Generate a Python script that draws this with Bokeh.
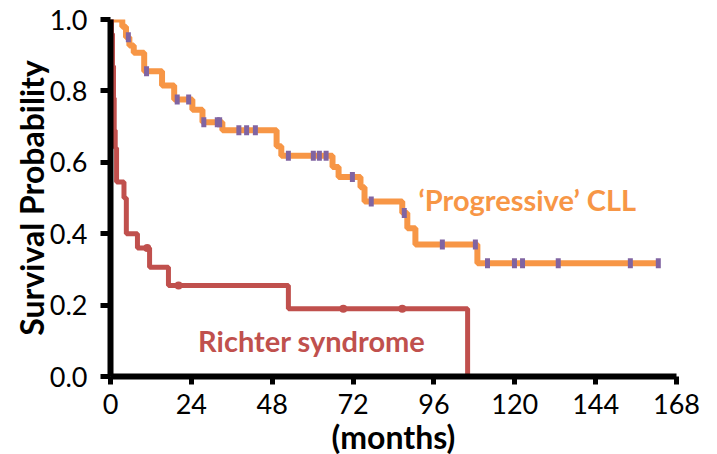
from bokeh.plotting import figure
from bokeh.models import Label, FixedTicker, Range1d, PrintfTickFormatter
from bokeh.embed import file_html
from bokeh.resources import INLINE

# ---- data ----
x_ticks = [0, 24, 48, 72, 96, 120, 144, 168]
y_ticks = [0.0, 0.2, 0.4, 0.6, 0.8, 1.0]

cll_t = [0, 3.5, 4.6, 5.6, 6.9, 10.0, 15.3, 18.9, 24.3, 27.3, 33.2, 49.3, 50.7,
         65.9, 67.7, 74.2, 75.4, 86.6, 88.1, 90.5, 108.9, 162.6]
cll_s = [1.0, 0.98, 0.95, 0.927, 0.907, 0.855, 0.815, 0.776, 0.747, 0.712, 0.69,
         0.645, 0.618, 0.587, 0.559, 0.53, 0.49, 0.458, 0.415, 0.37, 0.317, 0.317]
cll_cens_t = [5.3, 10.7, 19.8, 23.2, 27.7, 31.7, 32.4, 38.1, 40.4, 43.0, 52.8, 60.2,
              62.0, 64.0, 71.8, 77.4, 87.2, 98.5, 108.3, 111.9, 119.9, 122.3, 132.9,
              154.3, 162.6]
cll_cens_s = [0.95, 0.855, 0.776, 0.776, 0.712, 0.712, 0.712, 0.69, 0.69, 0.69, 0.618,
              0.618, 0.618, 0.618, 0.559, 0.49, 0.458, 0.37, 0.37, 0.317, 0.317, 0.317,
              0.317, 0.317, 0.317]

rs_t = [0, 0.3, 0.6, 0.9, 1.1, 1.4, 1.8, 4.0, 4.7, 8.0, 11.6, 17.2, 52.8, 106.0]
rs_s = [1.0, 0.96, 0.87, 0.78, 0.69, 0.64, 0.545, 0.50, 0.40, 0.36, 0.306, 0.255, 0.19, 0.0]
rs_cens_t = [10.9, 20.2, 69.1, 86.6]
rs_cens_s = [0.36, 0.255, 0.19, 0.19]

ORANGE = "#F79646"
RED = "#C0504D"
PURPLE = "#8064A2"
FONT = "Lato"

p = figure(frame_width=566, frame_height=357,
           x_range=Range1d(0, 168), y_range=Range1d(0, 1),
           output_backend="svg", toolbar_location=None,
           min_border_left=110, min_border_right=41,
           min_border_top=19, min_border_bottom=78)
p.outline_line_color = None
p.grid.visible = False
p.background_fill_color = "white"
p.border_fill_color = "white"

p.step(x=cll_t, y=cll_s, mode="after", line_color=ORANGE, line_width=6)
p.rect(x=cll_cens_t, y=cll_cens_s, width=5, height=10, width_units="screen",
       height_units="screen", fill_color=PURPLE, line_color=None)

p.step(x=rs_t, y=rs_s, mode="after", line_color=RED, line_width=5)
p.scatter(x=rs_cens_t, y=rs_cens_s, size=8, fill_color=RED, line_color=None)

for ax in (p.xaxis, p.yaxis):
    ax.axis_line_width = 6
    ax.axis_line_color = "black"
    ax.major_tick_line_width = 5
    ax.major_tick_line_color = "black"
    ax.major_tick_in = 0
    ax.minor_tick_line_color = None
    ax.major_label_text_font = FONT
    ax.major_label_text_font_size = "27px"
    ax.major_label_text_color = "black"
    ax.axis_label_text_font = FONT
    ax.axis_label_text_font_size = "32px"
    ax.axis_label_text_font_style = "bold"
    ax.axis_label_text_color = "black"

p.xaxis.ticker = FixedTicker(ticks=x_ticks)
p.yaxis.ticker = FixedTicker(ticks=y_ticks)
p.yaxis.formatter = PrintfTickFormatter(format="%.1f")
p.xaxis.major_tick_out = 8
p.yaxis.major_tick_out = 10
p.xaxis.major_label_standoff = 9
p.yaxis.major_label_standoff = 13
p.xaxis.axis_label = "(months)"
p.yaxis.axis_label = "Survival Probability"
p.xaxis.axis_label_standoff = 0
p.yaxis.axis_label_standoff = -4

p.add_layout(Label(x=91.4, y=0.495, text="\u2018Progressive\u2019 CLL", text_font=FONT,
                   text_font_size="29px", text_font_style="bold", text_color=ORANGE,
                   text_baseline="middle", text_align="left"))
p.add_layout(Label(x=26.0, y=0.10, text="Richter syndrome", text_font=FONT,
                   text_font_size="29px", text_font_style="bold", text_color=RED,
                   text_baseline="middle", text_align="left"))

open("out.html", "w").write(file_html(p, INLINE))
